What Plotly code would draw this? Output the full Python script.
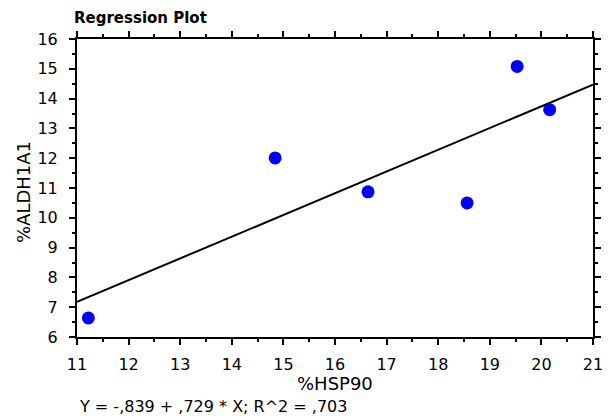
import plotly.graph_objects as go

# Data
hsp90 = [11.22, 14.84, 16.64, 18.56, 19.53, 20.16]
aldh1a1 = [6.64, 12.01, 10.87, 10.50, 15.08, 13.63]
intercept = -0.839
slope = 0.729
r2 = 0.703
x_range = [11, 21]
y_range = [6, 16]
x_ticks = list(range(11, 22))
y_ticks = list(range(6, 17))

line_x = x_range
line_y = [intercept + slope * v for v in line_x]

FONT = "DejaVu Sans"

fig = go.Figure()
fig.add_trace(go.Scatter(x=line_x, y=line_y, mode="lines",
                         line=dict(color="black", width=2), hoverinfo="skip"))
fig.add_trace(go.Scatter(x=hsp90, y=aldh1a1, mode="markers",
                         marker=dict(color="#0000FF", size=13, line=dict(width=0))))

axis_common = dict(
    showline=True, linecolor="black", linewidth=2, mirror="ticks",
    ticks="outside", ticklen=6, tickwidth=2, tickcolor="black",
    showgrid=False, zeroline=False,
    tickfont=dict(family=FONT, size=16, color="black"),
)

fig.update_xaxes(range=x_range, tickvals=x_ticks, ticktext=[str(v) for v in x_ticks],
                 minor=dict(dtick=0.5, ticks="outside", ticklen=3, tickwidth=2,
                            tickcolor="black", showgrid=False),
                 ticklabelstandoff=6, **axis_common)
fig.update_yaxes(range=y_range, tickvals=y_ticks, ticktext=[str(v) for v in y_ticks],
                 minor=dict(dtick=0.5, ticks="outside", ticklen=3, tickwidth=2,
                            tickcolor="black", showgrid=False),
                 ticklabelstandoff=8, **axis_common)

eq_text = "Y = -,839 + ,729 * X; R^2 = ,703"

fig.update_layout(
    width=612, height=416,
    margin=dict(l=77, r=9, t=39, b=79),
    plot_bgcolor="white", paper_bgcolor="white",
    showlegend=False,
    annotations=[
        dict(text="<b>Regression Plot</b>", xref="paper", yref="paper",
             x=-0.009, y=1.069, xanchor="left", yanchor="middle", showarrow=False,
             font=dict(family=FONT, size=15, color="black")),
        dict(text="%HSP90", xref="paper", yref="paper",
             x=0.5, y=-0.155, xanchor="center", yanchor="middle", showarrow=False,
             font=dict(family=FONT, size=18, color="black")),
        dict(text="%ALDH1A1", xref="paper", yref="paper",
             x=-0.105, y=0.486, xanchor="center", yanchor="middle", showarrow=False,
             textangle=-90, font=dict(family=FONT, size=18, color="black")),
        dict(text=eq_text, xref="paper", yref="paper",
             x=0.0, y=-0.232, xanchor="left", yanchor="middle", showarrow=False,
             font=dict(family=FONT, size=16, color="black")),
    ],
)

fig.write_html("out.html", config={"displayModeBar": False},
               post_script="document.body.style.margin='0';")
